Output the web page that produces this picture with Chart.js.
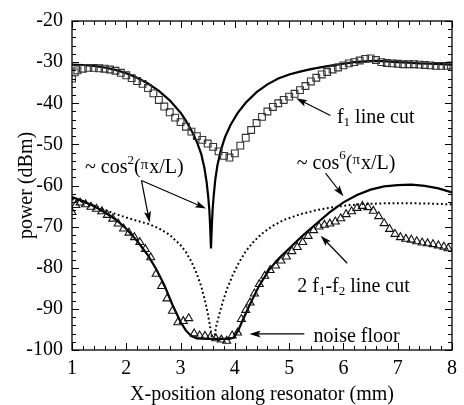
<!DOCTYPE html>
<html>
<head>
<meta charset="utf-8">
<script src="https://cdn.jsdelivr.net/npm/chart.js@4/dist/chart.umd.min.js"></script>
<style>
  html, body { margin: 0; padding: 0; background: #fff; }
</style>
</head>
<body>
<canvas id="myChart" width="464" height="405"></canvas>
<script>
// tick values
const xTicks = [1, 2, 3, 4, 5, 6, 7, 8];
const yTicks = [-100, -90, -80, -70, -60, -50, -40, -30, -20];

// f1 line cut (squares)
const f1CutX = [1.00, 1.05, 1.10, 1.20, 1.30, 1.40, 1.50, 1.60, 1.70, 1.80, 1.90, 2.00, 2.10, 2.20, 2.30, 2.40,
  2.50, 2.60, 2.70, 2.80, 2.90, 3.00, 3.10, 3.20, 3.30, 3.40, 3.50, 3.60, 3.70, 3.80, 3.90, 4.00, 4.10, 4.20,
  4.30, 4.40, 4.50, 4.60, 4.70, 4.80, 4.90, 5.00, 5.10, 5.20, 5.30, 5.40, 5.50, 5.60, 5.70, 5.80, 5.90, 6.00,
  6.10, 6.20, 6.30, 6.40, 6.50, 6.60, 6.70, 6.80, 6.90, 7.00, 7.10, 7.20, 7.30, 7.40, 7.50, 7.60, 7.70, 7.80,
  7.90, 7.98];
const f1CutY = [-34.0, -32.5, -32.0, -31.6, -31.4, -31.4, -31.5, -31.6, -31.8, -32.1, -32.6, -33.2, -33.9, -34.6,
  -35.3, -36.3, -37.6, -39.2, -40.8, -42.2, -43.5, -44.6, -45.7, -46.9, -48.0, -48.9, -49.8, -50.6, -51.7, -52.8,
  -53.2, -52.2, -50.3, -48.4, -46.5, -44.8, -43.3, -42.0, -40.9, -40.0, -39.2, -38.4, -37.7, -36.8, -35.8, -34.7,
  -33.8, -33.0, -32.4, -31.8, -31.3, -30.8, -30.3, -30.0, -29.6, -29.2, -29.1, -29.5, -30.0, -30.2, -30.3, -30.4,
  -30.5, -30.5, -30.5, -30.6, -30.7, -30.8, -30.9, -30.9, -30.9, -30.8];

// f1 fit (solid)
const f1FitX = [1.0, 1.2, 1.4, 1.6, 1.8, 2.0, 2.2, 2.4, 2.6, 2.8, 3.0, 3.1, 3.2, 3.3, 3.38, 3.44, 3.48, 3.51, 3.53,
  3.545, 3.56, 3.575, 3.59, 3.61, 3.64, 3.68, 3.74, 3.82, 3.92, 4.05, 4.2, 4.4, 4.6, 4.8, 5.0, 5.2, 5.4, 5.6, 5.8,
  6.0, 6.2, 6.4, 6.6, 6.8, 7.0, 7.2, 7.4, 7.6, 7.8, 8.0];
const f1FitY = [-30.6, -30.7, -30.9, -31.3, -31.9, -32.7, -33.8, -35.2, -37.0, -39.3, -42.3, -44.3, -46.6, -49.4,
  -52.3, -55.8, -59.2, -62.8, -66.0, -70.0, -75.3, -70.0, -66.0, -62.5, -58.5, -55.0, -51.5, -48.2, -45.3, -42.4,
  -39.9, -37.3, -35.4, -34.0, -33.0, -32.3, -31.7, -31.2, -30.8, -30.4, -30.0, -29.8, -29.7, -29.8, -30.0, -30.1,
  -30.3, -30.4, -30.5, -30.6];

// ~cos^2 (dotted)
const cos2X = [1.0, 1.2, 1.4, 1.6, 1.8, 2.0, 2.2, 2.4, 2.6, 2.8, 3.0, 3.1, 3.2, 3.3, 3.38, 3.45, 3.5, 3.54, 3.58,
  3.62, 3.66, 3.72, 3.78, 3.86, 3.96, 4.08, 4.2, 4.35, 4.5, 4.7, 4.9, 5.2, 5.5, 5.8, 6.1, 6.4, 6.8, 7.2, 7.6, 8.0];
const cos2Y = [-63.3, -64.0, -64.9, -65.9, -66.9, -67.8, -68.6, -69.3, -70.4, -72.0, -74.5, -76.2, -78.5, -81.5,
  -84.5, -88.0, -91.0, -94.0, -97.2, -97.2, -94.0, -91.0, -88.2, -85.0, -81.8, -78.6, -76.0, -73.6, -71.7, -69.8,
  -68.4, -67.0, -66.0, -65.3, -64.8, -64.5, -64.3, -64.3, -64.4, -64.6];

// ~cos^6 (solid)
const cos6X = [1.0, 1.2, 1.4, 1.6, 1.8, 2.0, 2.2, 2.4, 2.55, 2.7, 2.85, 3.0, 3.1, 3.2, 3.3, 3.5, 3.7, 3.9, 3.98,
  4.06, 4.15, 4.3, 4.45, 4.63, 4.8, 5.0, 5.25, 5.5, 5.75, 6.0, 6.25, 6.5, 6.75, 7.0, 7.25, 7.5, 7.75, 8.0];
const cos6Y = [-62.8, -63.8, -65.0, -66.5, -68.2, -70.5, -73.5, -77.0, -80.3, -84.2, -89.0, -93.2, -95.3, -96.6,
  -97.2, -97.3, -97.3, -97.3, -97.0, -95.3, -92.6, -88.3, -84.3, -80.5, -77.9, -75.3, -72.2, -69.3, -66.5, -64.1,
  -62.3, -61.0, -60.2, -59.9, -59.8, -60.1, -60.7, -61.7];

// 2f1-f2 line cut (triangles)
const imdCutX = [1.00, 1.07, 1.15, 1.25, 1.35, 1.45, 1.55, 1.65, 1.75, 1.85, 1.95, 2.05, 2.15, 2.25, 2.35, 2.45,
  2.55, 2.65, 2.75, 2.85, 2.95, 3.05, 3.15, 3.25, 3.35, 3.45, 3.55, 3.65, 3.75, 3.85, 3.95, 4.05, 4.12, 4.20,
  4.28, 4.36, 4.45, 4.55, 4.65, 4.75, 4.85, 4.95, 5.05, 5.15, 5.25, 5.35, 5.45, 5.55, 5.65, 5.75, 5.85, 5.95,
  6.05, 6.15, 6.25, 6.35, 6.45, 6.55, 6.65, 6.75, 6.85, 6.95, 7.05, 7.15, 7.25, 7.35, 7.45, 7.55, 7.65, 7.75,
  7.85, 7.93];
const imdCutY = [-66.5, -64.8, -64.2, -64.6, -65.2, -65.7, -66.3, -67.2, -68.1, -69.3, -70.5, -71.5, -72.6, -73.8,
  -75.5, -77.5, -81.5, -84.5, -87.5, -90.5, -93.3, -93.0, -92.3, -96.0, -96.5, -96.6, -96.8, -97.2, -97.5, -97.8,
  -96.5, -95.8, -92.5, -90.3, -88.5, -86.3, -84.0, -82.0, -80.6, -79.5, -78.3, -77.3, -76.0, -75.0, -73.8, -72.3,
  -70.9, -70.0, -69.6, -69.3, -68.8, -68.0, -67.0, -66.3, -65.5, -65.0, -65.3, -66.2, -67.5, -69.2, -70.6, -71.8,
  -72.6, -73.0, -73.2, -73.6, -73.9, -74.1, -74.3, -74.6, -74.9, -75.3];

// annotation texts (anchored in data units: left edge, vertical middle)
const noteTexts = [
  { x: 5.88, y: -43.5, parts: [['f'], ['1', 'sub'], [' line cut']] },
  { x: 1.24, y: -55.8, parts: [['~ cos'], ['2', 'sup'], ['('], ['\u03c0', 'pi'], ['x/L)']] },
  { x: 5.14, y: -54.6, parts: [['~ cos'], ['6', 'sup'], ['('], ['\u03c0', 'pi'], ['x/L)']] },
  { x: 5.15, y: -84.5, parts: [['2 f'], ['1', 'sub'], ['-f'], ['2', 'sub'], [' line cut']] },
  { x: 5.45, y: -96.8, parts: [['noise floor']] }
];
// arrows: [fromX, fromY, toX, toY]
const noteArrows = [
  [5.76, -43.0, 5.13, -38.8],
  [2.28, -58.8, 2.43, -69.0],
  [2.28, -58.8, 3.47, -65.6],
  [5.67, -57.0, 6.0, -62.6],
  [6.07, -78.9, 5.58, -72.2],
  [5.28, -96.1, 4.27, -96.1]
];

const serif = "'Liberation Serif', 'Times New Roman', serif";

function pts(xs, ys) {
  return xs.map((v, i) => ({ x: v, y: ys[i] }));
}

const frameTicks = {
  id: 'frameTicks',
  afterDatasetsDraw(chart) {
    const { ctx, chartArea: a, scales: { x, y } } = chart;
    ctx.save();
    ctx.strokeStyle = '#000';
    ctx.lineWidth = 1.3;
    ctx.strokeRect(a.left, a.top, a.right - a.left, a.bottom - a.top);
    ctx.lineWidth = 1;
    ctx.beginPath();
    for (let i = 0; i <= 35; i++) {
      const px = Math.round(x.getPixelForValue(1 + i * 0.2)) + 0.5;
      const len = i % 5 === 0 ? 7 : 4;
      ctx.moveTo(px, a.bottom); ctx.lineTo(px, a.bottom - len);
      ctx.moveTo(px, a.top); ctx.lineTo(px, a.top + len);
    }
    for (let i = 0; i <= 40; i++) {
      const py = Math.round(y.getPixelForValue(-100 + i * 2)) + 0.5;
      const len = i % 5 === 0 ? 7 : 4;
      ctx.moveTo(a.left, py); ctx.lineTo(a.left + len, py);
      ctx.moveTo(a.right, py); ctx.lineTo(a.right - len, py);
    }
    ctx.stroke();
    ctx.restore();
  }
};

function drawRich(ctx, parts, x0, y0) {
  let cx = x0;
  parts.forEach(([t, kind]) => {
    let size = 20, dy = 0;
    if (kind === 'sub') { size = 13; dy = 5; }
    if (kind === 'sup') { size = 13; dy = -8; }
    if (kind === 'pi') { size = 15; dy = -3; }
    ctx.font = size + 'px ' + serif;
    ctx.fillText(t, cx, y0 + dy);
    cx += ctx.measureText(t).width + (kind === 'pi' ? 1 : 0);
  });
}

const notes = {
  id: 'notes',
  afterDraw(chart) {
    const { ctx, scales: { x, y } } = chart;
    ctx.save();
    ctx.fillStyle = '#000';
    ctx.strokeStyle = '#000';
    ctx.textBaseline = 'middle';
    ctx.textAlign = 'left';
    noteTexts.forEach(n => drawRich(ctx, n.parts, x.getPixelForValue(n.x), y.getPixelForValue(n.y)));
    ctx.lineWidth = 1.2;
    noteArrows.forEach(([x1, y1, x2, y2]) => {
      const ax = x.getPixelForValue(x1), ay = y.getPixelForValue(y1);
      const bx = x.getPixelForValue(x2), by = y.getPixelForValue(y2);
      const ang = Math.atan2(by - ay, bx - ax);
      const hl = 11, hw = 3.5;
      ctx.beginPath();
      ctx.moveTo(ax, ay);
      ctx.lineTo(bx - Math.cos(ang) * hl * 0.8, by - Math.sin(ang) * hl * 0.8);
      ctx.stroke();
      ctx.beginPath();
      ctx.moveTo(bx, by);
      ctx.lineTo(bx - Math.cos(ang) * hl - Math.sin(ang) * hw, by - Math.sin(ang) * hl + Math.cos(ang) * hw);
      ctx.lineTo(bx - Math.cos(ang) * hl * 0.8, by - Math.sin(ang) * hl * 0.8);
      ctx.lineTo(bx - Math.cos(ang) * hl + Math.sin(ang) * hw, by - Math.sin(ang) * hl - Math.cos(ang) * hw);
      ctx.closePath();
      ctx.fill();
    });
    ctx.restore();
  }
};

const ctx = document.getElementById('myChart').getContext('2d');
new Chart(ctx, {
  type: 'scatter',
  data: {
    datasets: [{
      label: 'f1 line cut',
      data: pts(f1CutX, f1CutY),
      pointStyle: 'rect',
      pointRadius: 4.8,
      pointBorderColor: '#333',
      pointBackgroundColor: 'rgba(0,0,0,0)',
      pointBorderWidth: 1.1,
      showLine: false,
      order: 1
    }, {
      label: 'f1 fit',
      data: pts(f1FitX, f1FitY),
      showLine: true,
      borderColor: '#000',
      borderWidth: 2.2,
      pointRadius: 0,
      order: 3
    }, {
      label: 'cos2',
      data: pts(cos2X, cos2Y),
      showLine: true,
      borderColor: '#000',
      borderWidth: 2,
      borderDash: [1.8, 2.6],
      pointRadius: 0,
      order: 4
    }, {
      label: 'cos6',
      data: pts(cos6X, cos6Y),
      showLine: true,
      borderColor: '#000',
      borderWidth: 2.2,
      pointRadius: 0,
      order: 3
    }, {
      label: '2f1-f2 line cut',
      data: pts(imdCutX, imdCutY),
      pointStyle: 'triangle',
      pointRadius: 4.6,
      pointBorderColor: '#111',
      pointBackgroundColor: 'rgba(0,0,0,0)',
      pointBorderWidth: 1.1,
      showLine: false,
      order: 1
    }]
  },
  options: {
    responsive: false,
    animation: false,
    devicePixelRatio: 1,
    layout: { padding: { top: 20, right: 10, left: 0, bottom: 0 } },
    plugins: { legend: { display: false }, tooltip: { enabled: false } },
    scales: {
      x: {
        type: 'linear',
        min: 1, max: 8,
        afterBuildTicks: s => { s.ticks = xTicks.map(v => ({ value: v })); },
        afterFit: s => { s.height = 55; },
        grid: { display: false, drawTicks: false },
        border: { display: false },
        ticks: { padding: 7, color: '#000', font: { family: serif, size: 20 }, callback: v => String(v) },
        title: { display: true, text: 'X-position along resonator (mm)', color: '#000',
          font: { family: serif, size: 20 }, padding: { top: 0, bottom: -2 } }
      },
      y: {
        min: -100, max: -20,
        afterBuildTicks: s => { s.ticks = yTicks.map(v => ({ value: v })); },
        afterFit: s => { s.width = 72; },
        grid: { display: false, drawTicks: false },
        border: { display: false },
        ticks: { padding: 9, color: '#000', font: { family: serif, size: 20 }, callback: v => String(v) },
        title: { display: true, text: 'power (dBm)', color: '#000',
          font: { family: serif, size: 20 }, padding: { top: 15, bottom: 0 } }
      }
    }
  },
  plugins: [frameTicks, notes]
});
</script>
</body>
</html>
